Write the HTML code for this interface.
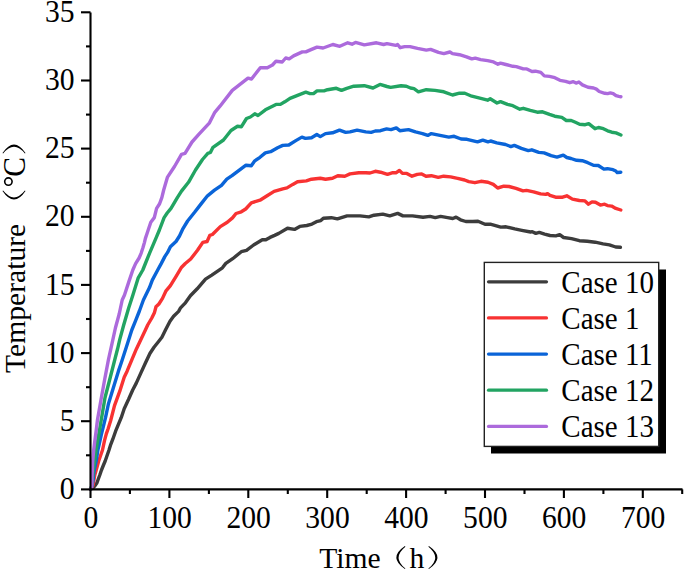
<!DOCTYPE html>
<html><head><meta charset="utf-8"><style>
html,body{margin:0;padding:0;background:#fff;}
body{width:685px;height:571px;overflow:hidden;font-family:"Liberation Serif",serif;}
svg{display:block;}
</style></head><body>
<svg width="685" height="571" viewBox="0 0 685 571">
<g font-family="Liberation Serif" font-size="29.6" fill="#000">
<text transform="translate(74.60,499.00) scale(1,1.047)" text-anchor="end">0</text>
<text transform="translate(74.60,430.85) scale(1,1.047)" text-anchor="end">5</text>
<text transform="translate(74.60,362.70) scale(1,1.047)" text-anchor="end">10</text>
<text transform="translate(74.60,294.55) scale(1,1.047)" text-anchor="end">15</text>
<text transform="translate(74.60,226.40) scale(1,1.047)" text-anchor="end">20</text>
<text transform="translate(74.60,158.25) scale(1,1.047)" text-anchor="end">25</text>
<text transform="translate(74.60,90.10) scale(1,1.047)" text-anchor="end">30</text>
<text transform="translate(74.60,21.95) scale(1,1.047)" text-anchor="end">35</text>
<text transform="translate(90.80,527.60) scale(1,1.047)" text-anchor="middle">0</text>
<text transform="translate(169.70,527.60) scale(1,1.047)" text-anchor="middle">100</text>
<text transform="translate(248.60,527.60) scale(1,1.047)" text-anchor="middle">200</text>
<text transform="translate(327.50,527.60) scale(1,1.047)" text-anchor="middle">300</text>
<text transform="translate(406.40,527.60) scale(1,1.047)" text-anchor="middle">400</text>
<text transform="translate(485.30,527.60) scale(1,1.047)" text-anchor="middle">500</text>
<text transform="translate(564.20,527.60) scale(1,1.047)" text-anchor="middle">600</text>
<text transform="translate(643.10,527.60) scale(1,1.047)" text-anchor="middle">700</text>
</g>
<g font-family="Liberation Serif" font-size="29.6" fill="#000">
<text transform="translate(319.20,568.30) scale(1,0.985)">Time</text>
<text transform="translate(409.60,568.40) scale(1,0.985)">h</text>
<path transform="translate(396.4,568.1)" d="M8.5,-22 Q-8.5,-10.5 8.5,1 L9,0.4 Q-4.6,-10.5 9,-21.4 Z"/>
<path transform="translate(428.9,568.1)" d="M0,-22 Q17,-10.5 0,1 L-0.5,0.4 Q13.1,-10.5 -0.5,-21.4 Z"/>
<g transform="translate(24.5,372.9) rotate(-90)">
<text transform="scale(1,1.01)">Temperature</text>
<path transform="translate(173.3,0)" d="M8.5,-22 Q-8.5,-10.5 8.5,1 L9,0.4 Q-4.6,-10.5 9,-21.4 Z"/>
<circle cx="191.3" cy="-16.1" r="3.7" fill="none" stroke="#000" stroke-width="1.6"/>
<text transform="translate(196.2,0) scale(1,1.047)">C</text>
<path transform="translate(219.8,0)" d="M0,-22 Q17,-10.5 0,1 L-0.5,0.4 Q13.1,-10.5 -0.5,-21.4 Z"/>
</g>
</g>
<g fill="none" stroke-width="3.4" stroke-linejoin="round" stroke-linecap="round">
<polyline stroke="#3c3c3c" points="90.5,489.4 92.8,488.0 95.1,485.5 96.9,483.0 98.3,479.0 99.8,475.0 101.5,470.0 103.5,465.0 105.2,461.0 109.0,450.0 110.7,444.6 112.8,439.2 115.6,431.2 118.4,424.4 121.2,417.7 124.2,408.7 128.6,399.3 132.7,390.0 136.4,382.9 140.8,373.1 145.3,363.3 149.9,353.5 154.0,347.2 158.6,341.5 161.9,337.3 165.7,329.6 170.0,321.2 173.6,316.3 178.6,311.4 180.3,308.2 185.4,302.8 190.4,295.8 197.2,288.8 205.5,279.2 211.8,275.1 222.4,267.8 225.8,263.4 232.7,258.7 241.3,251.7 246.5,250.3 253.6,245.0 262.3,239.8 265.8,239.8 270.0,237.4 274.6,235.4 278.8,233.4 287.5,228.2 294.5,229.4 299.8,226.4 306.8,225.5 312.0,224.1 316.4,221.7 320.8,220.6 323.4,218.2 331.3,217.7 337.4,218.9 347.1,215.9 360.0,215.9 368.8,216.9 374.0,215.2 382.8,214.1 389.8,215.9 397.7,213.4 402.9,215.9 412.5,215.9 423.0,217.3 430.0,216.4 435.3,217.6 440.6,216.4 447.6,217.6 452.8,218.5 456.1,217.1 460.5,219.8 465.8,221.5 472.8,221.5 478.0,221.2 485.0,224.2 490.3,224.2 500.8,227.1 506.0,226.8 514.8,228.9 521.8,230.3 530.6,232.0 532.3,231.7 535.8,233.4 539.3,232.4 544.6,234.1 550.0,235.5 555.8,235.9 559.7,234.7 563.6,237.5 571.5,238.6 579.4,240.7 587.3,241.3 595.2,242.2 603.1,243.8 609.4,244.9 615.7,247.0 620.4,247.3"/>
<polyline stroke="#f83232" points="90.5,489.4 91.9,487.6 93.0,485.5 93.5,483.0 94.1,479.0 94.8,475.0 96.2,470.0 98.7,461.0 102.5,450.0 104.5,440.6 106.3,433.9 108.2,428.5 110.7,420.5 114.5,405.6 119.7,391.4 124.2,377.2 127.2,370.9 131.8,359.9 136.4,348.9 140.9,339.4 145.4,330.0 147.7,325.0 151.8,318.0 154.5,312.4 156.0,306.8 158.9,304.0 162.5,298.4 165.8,291.2 170.4,285.6 176.1,276.4 181.6,267.2 185.3,263.5 190.7,259.0 197.5,250.3 202.8,242.4 207.1,241.5 209.8,235.4 212.4,234.5 220.3,226.6 227.3,222.3 232.5,217.9 236.0,213.5 241.3,211.8 245.7,209.0 251.3,202.8 260.0,200.2 267.1,195.8 274.1,191.4 282.8,188.8 287.0,187.9 292.8,184.4 297.5,181.8 306.3,180.9 311.5,179.2 320.3,178.3 325.5,179.2 332.5,178.3 337.8,175.7 344.8,176.2 350.0,173.9 358.8,172.7 365.8,172.7 370.0,173.0 375.3,171.3 380.5,172.2 387.5,174.4 392.8,172.7 396.3,172.7 399.4,170.4 402.4,173.4 406.8,173.4 412.0,176.2 417.3,174.4 421.7,173.9 426.0,176.2 431.3,175.7 438.3,177.4 443.6,176.2 450.6,176.9 457.6,178.3 464.6,180.0 468.8,181.6 474.9,182.7 481.0,181.3 488.0,182.2 493.3,184.4 497.7,188.0 503.8,186.2 509.0,186.5 516.0,188.3 523.0,190.9 526.5,190.4 533.6,191.8 540.6,193.9 545.8,194.4 547.6,193.6 550.0,195.3 555.6,197.2 562.6,197.2 566.8,195.8 572.4,199.1 579.4,200.5 585.0,200.9 588.5,204.2 592.0,201.9 595.5,202.3 600.4,205.1 604.6,204.2 607.4,205.6 611.6,206.1 615.8,208.4 620.8,210.0"/>
<polyline stroke="#0a64d8" points="90.5,489.4 91.9,486.5 93.1,480.0 93.6,475.0 94.3,470.0 96.2,461.0 97.9,450.0 99.4,443.3 101.5,433.9 103.5,425.8 105.5,417.7 108.4,404.0 113.2,388.3 118.5,370.9 121.7,361.5 126.3,347.3 131.8,330.0 135.5,320.8 139.4,311.0 143.4,300.0 149.5,287.6 152.3,280.1 157.7,270.0 161.2,263.6 164.8,256.6 167.6,252.4 170.4,246.8 176.0,241.5 179.5,236.0 183.0,228.6 187.6,221.0 194.6,212.3 200.5,204.6 207.5,195.8 214.5,190.2 221.5,185.3 226.8,179.2 232.0,175.7 239.0,170.4 246.0,165.2 251.3,165.7 254.8,160.8 260.0,157.3 265.3,152.9 270.6,151.7 277.6,147.7 282.8,145.4 288.8,145.0 295.8,140.6 301.9,137.1 305.4,138.4 311.5,137.7 316.8,134.5 320.3,136.6 325.5,133.6 332.5,132.8 339.5,130.1 345.7,132.4 350.0,131.9 357.1,130.1 365.8,131.9 371.1,132.4 375.3,131.0 380.5,130.7 386.6,128.9 391.0,129.6 396.3,127.9 399.8,130.7 408.5,129.6 415.5,131.9 422.5,133.6 427.8,135.4 431.3,133.6 440.0,135.4 448.8,137.1 454.1,136.3 461.1,139.0 467.0,139.3 477.5,141.9 482.8,140.1 488.0,141.9 490.6,141.0 496.8,142.8 505.5,144.5 510.8,146.6 514.3,145.4 521.3,148.4 528.3,150.6 531.8,149.8 538.8,152.4 544.1,152.9 551.1,155.6 557.0,157.1 563.3,155.1 566.8,157.5 571.0,158.5 576.6,160.3 582.2,160.7 587.8,162.7 593.4,165.2 598.3,165.5 603.9,169.1 607.4,168.7 613.0,169.7 615.8,171.1 617.2,172.5 620.8,172.2"/>
<polyline stroke="#22a462" points="90.5,489.4 91.7,486.0 92.5,478.0 93.3,470.0 94.7,461.0 96.1,450.0 97.9,439.2 99.8,428.5 101.4,419.0 105.0,397.7 110.3,377.2 114.7,360.0 117.6,348.8 119.8,339.4 123.7,325.0 128.6,308.2 132.9,295.0 138.1,278.2 142.8,270.0 146.2,261.5 149.6,253.1 152.9,245.4 156.2,237.7 159.4,230.0 164.1,217.6 167.2,213.0 171.0,208.4 177.5,197.4 181.5,191.1 188.5,182.3 195.5,170.0 202.5,159.5 207.8,153.4 210.4,152.5 213.0,147.3 223.5,140.0 231.0,130.5 237.5,126.3 241.3,126.8 246.5,118.5 250.4,117.0 254.8,113.8 258.0,115.5 265.4,109.8 272.5,106.2 276.0,104.4 280.4,104.4 284.8,101.8 290.0,98.3 298.8,94.8 305.8,92.2 310.0,93.6 313.5,93.6 317.0,90.9 324.0,90.9 327.5,89.7 336.3,88.3 341.5,90.4 346.8,88.3 353.8,86.2 364.3,85.7 373.0,88.0 380.0,84.4 387.0,86.5 390.6,87.4 401.0,85.7 406.3,86.2 410.5,88.0 414.0,88.7 418.4,91.8 426.3,89.7 435.0,90.4 443.8,91.8 452.5,95.0 459.5,93.2 464.8,93.2 471.8,96.2 478.8,97.9 487.6,100.2 490.2,98.8 497.0,103.0 500.5,101.6 507.5,104.4 512.8,105.7 519.8,109.2 523.3,108.3 530.3,110.4 537.3,112.2 542.5,111.8 549.5,114.4 554.8,116.2 561.8,117.4 566.3,120.5 571.2,120.5 575.4,122.3 579.6,124.2 585.2,124.7 588.7,123.7 595.0,128.7 598.5,127.5 603.4,128.7 607.6,130.8 611.8,132.2 616.0,132.9 620.9,135.0"/>
<polyline stroke="#ac6adc" points="90.5,489.4 91.5,487.2 92.0,484.0 92.0,479.0 92.1,475.0 92.4,470.0 92.7,461.0 93.7,450.0 94.7,441.9 96.1,431.2 97.4,420.4 101.0,399.8 104.8,378.7 108.5,359.4 112.0,343.7 115.4,328.0 119.2,314.0 122.2,300.0 124.5,295.0 128.8,281.9 132.8,270.0 135.6,263.6 139.1,258.0 141.2,253.1 143.0,247.5 144.4,242.6 145.4,238.4 146.8,234.2 148.2,230.0 150.8,222.2 154.3,217.6 156.6,208.4 159.6,203.8 161.9,197.4 163.7,190.0 167.5,177.1 174.5,166.5 181.5,154.3 185.0,153.4 192.0,142.0 199.0,134.2 209.5,122.8 214.8,112.3 220.0,106.2 232.3,90.4 248.0,78.2 251.5,79.0 260.3,67.7 267.3,67.7 272.5,65.0 276.0,61.2 282.2,62.0 285.7,58.0 289.2,58.9 293.6,55.9 302.3,51.9 305.8,51.9 311.0,49.6 317.0,47.1 323.1,48.0 332.8,44.5 339.8,46.3 347.7,42.8 352.0,44.2 355.5,42.4 364.3,44.9 376.5,42.8 383.6,44.5 387.0,43.6 395.8,45.4 397.6,44.5 400.2,47.7 404.6,46.6 410.0,46.6 417.5,48.4 426.3,50.1 430.6,49.4 438.5,52.4 443.8,53.6 449.9,52.0 452.5,53.6 459.5,54.7 466.5,56.8 471.8,58.9 475.3,58.2 480.6,59.6 487.6,60.6 493.5,61.9 497.9,64.2 500.5,63.1 505.8,64.5 512.8,66.3 516.3,66.6 523.3,68.9 526.8,68.9 532.0,71.5 535.5,71.2 540.8,72.4 544.3,75.9 549.5,76.4 554.8,77.7 560.0,80.3 565.6,81.3 569.8,82.7 573.3,81.7 576.1,83.1 578.9,82.0 582.4,84.9 588.0,87.3 593.6,88.0 596.4,89.1 599.2,91.5 604.8,93.3 607.6,93.6 610.4,92.9 613.2,93.6 616.0,95.7 618.8,96.4 620.9,96.7"/>
</g>
<g stroke="#000" stroke-width="2.1" fill="none" stroke-linecap="butt">
<path d="M90.5,12.5 V489.4 H682.5"/>
<path d="M81,489.4 H90.5"/>
<path d="M81,421.2 H90.5"/>
<path d="M81,353.1 H90.5"/>
<path d="M81,284.9 H90.5"/>
<path d="M81,216.8 H90.5"/>
<path d="M81,148.6 H90.5"/>
<path d="M81,80.5 H90.5"/>
<path d="M81,12.3 H90.5"/>
<path d="M86,455.3 H90.5"/>
<path d="M86,387.2 H90.5"/>
<path d="M86,319.0 H90.5"/>
<path d="M86,250.9 H90.5"/>
<path d="M86,182.7 H90.5"/>
<path d="M86,114.6 H90.5"/>
<path d="M86,46.4 H90.5"/>
<path d="M90.5,489.4 V498"/>
<path d="M169.4,489.4 V498"/>
<path d="M248.3,489.4 V498"/>
<path d="M327.2,489.4 V498"/>
<path d="M406.1,489.4 V498"/>
<path d="M485.0,489.4 V498"/>
<path d="M563.9,489.4 V498"/>
<path d="M642.8,489.4 V498"/>
<path d="M129.9,489.4 V494"/>
<path d="M208.9,489.4 V494"/>
<path d="M287.8,489.4 V494"/>
<path d="M366.7,489.4 V494"/>
<path d="M445.6,489.4 V494"/>
<path d="M524.5,489.4 V494"/>
<path d="M603.4,489.4 V494"/>
<path d="M682.2,489.4 V494"/>
</g>
<rect x="491" y="269.5" width="175" height="184" fill="#000"/>
<rect x="484.3" y="262.4" width="174.4" height="184" fill="#fff" stroke="#222" stroke-width="1.4"/>
<g font-family="Liberation Serif" font-size="29.6" fill="#000">
<path d="M488.5,281.8 H546.5" stroke="#3c3c3c" stroke-width="3.2" stroke-linecap="round"/>
<text transform="translate(561.30,292.50) scale(1,1.06)" font-size="29">Case 10</text>
<path d="M488.5,317.9 H546.5" stroke="#f83232" stroke-width="3.2" stroke-linecap="round"/>
<text transform="translate(561.30,328.65) scale(1,1.06)" font-size="29">Case 1</text>
<path d="M488.5,354.1 H546.5" stroke="#0a64d8" stroke-width="3.2" stroke-linecap="round"/>
<text transform="translate(561.30,364.80) scale(1,1.06)" font-size="29">Case 11</text>
<path d="M488.5,390.2 H546.5" stroke="#22a462" stroke-width="3.2" stroke-linecap="round"/>
<text transform="translate(561.30,400.95) scale(1,1.06)" font-size="29">Case 12</text>
<path d="M488.5,426.4 H546.5" stroke="#ac6adc" stroke-width="3.2" stroke-linecap="round"/>
<text transform="translate(561.30,437.10) scale(1,1.06)" font-size="29">Case 13</text>
</g>
</svg>
</body></html>
